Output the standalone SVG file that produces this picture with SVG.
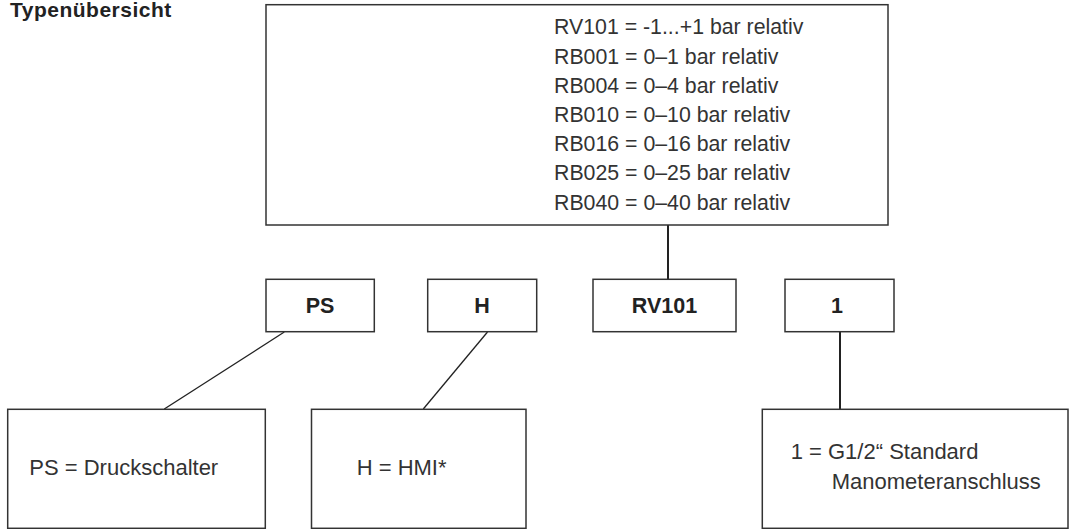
<svg xmlns="http://www.w3.org/2000/svg" width="1069" height="529" viewBox="0 0 1069 529">
<style>
.box{fill:#fff;stroke:#333;stroke-width:1.5}
.con{stroke:#222;stroke-width:1.3;fill:none}
.vcon{stroke:#222;stroke-width:2;fill:none}
.t{font-family:"Liberation Sans",Arial,sans-serif;fill:#333}
.n{font-size:21.3px}
.d{font-size:22px}
.b{font-weight:bold;font-size:21.5px;text-anchor:middle;fill:#222}
</style>
<rect width="1069" height="529" fill="#fff"/>
<text class="t" x="10" y="17" style="font-weight:bold;font-size:21px;letter-spacing:0.5px;fill:#222">Typenübersicht</text>
<g id="connectors">
<line class="vcon" x1="668" y1="225" x2="668" y2="279"/>
<line class="con" x1="284.3" y1="332" x2="164.3" y2="409"/>
<line class="con" x1="487.5" y1="332" x2="423.3" y2="409"/>
<line class="vcon" x1="840" y1="332" x2="840" y2="409"/>
</g>
<g id="range-box">
<rect class="box" x="266" y="4.7" width="622" height="220.3"/>
<text class="t n" x="554" y="34.3">RV101 = -1...+1 bar relativ</text>
<text class="t n" x="554" y="63.5">RB001 = 0–1 bar relativ</text>
<text class="t n" x="554" y="92.7">RB004 = 0–4 bar relativ</text>
<text class="t n" x="554" y="121.9">RB010 = 0–10 bar relativ</text>
<text class="t n" x="554" y="151.1">RB016 = 0–16 bar relativ</text>
<text class="t n" x="554" y="180.3">RB025 = 0–25 bar relativ</text>
<text class="t n" x="554" y="209.5">RB040 = 0–40 bar relativ</text>
</g>
<g id="ps">
<rect class="box" x="266" y="279.3" width="108.3" height="52.4"/>
<text class="t b" x="320" y="313">PS</text>
</g>
<g id="h">
<rect class="box" x="427.7" y="279.3" width="109" height="52.4"/>
<text class="t b" x="482" y="313">H</text>
</g>
<g id="rv101">
<rect class="box" x="593" y="279.3" width="143" height="52.4"/>
<text class="t b" x="664.5" y="313">RV101</text>
</g>
<g id="one">
<rect class="box" x="785" y="279.3" width="109" height="52.4"/>
<text class="t b" x="837" y="313">1</text>
</g>
<g id="ps-desc">
<rect class="box" x="7.7" y="409.3" width="257.6" height="119"/>
<text class="t d" x="29.3" y="475">PS = Druckschalter</text>
</g>
<g id="h-desc">
<rect class="box" x="311.5" y="409.3" width="214.5" height="119"/>
<text class="t d" x="356.7" y="475">H = HMI*</text>
</g>
<g id="one-desc">
<rect class="box" x="762.3" y="409.3" width="305.7" height="119"/>
<text class="t d" x="790.7" y="459.3">1 = G1/2“ Standard</text>
<text class="t d" x="831.7" y="489.3">Manometeranschluss</text>
</g>
</svg>
